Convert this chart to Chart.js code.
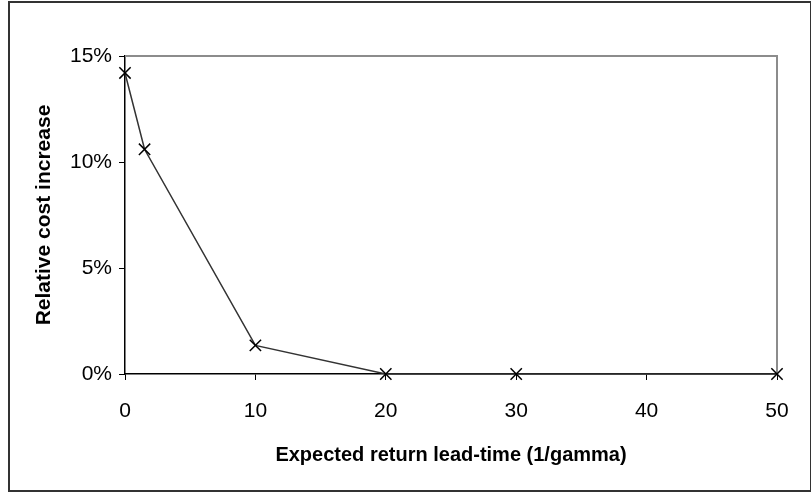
<!DOCTYPE html>
<html>
<head>
<meta charset="utf-8">
<script src="https://cdn.jsdelivr.net/npm/chart.js@4"></script>
<style>
  html, body { margin: 0; padding: 0; background: #fff; }
  #wrap { width: 811px; height: 494px; position: relative; }
</style>
</head>
<body>
<div id="wrap"><canvas id="c" width="811" height="494"></canvas></div>
<script>
// lead-time (1/gamma) e aumento de custo relativo (%)
const leadTimes = [0, 1.5, 10, 20, 30, 50];
const costIncrease = [14.2, 10.6, 1.35, 0, 0, 0];
const xTicks = [0, 10, 20, 30, 40, 50];
const yTicks = [0, 5, 10, 15];

const FONT = "'Liberation Sans', Arial, sans-serif";

// borda cinza do plot (topo/direita) e moldura externa
const frames = {
  id: "frames",
  beforeDatasetsDraw(chart) {
    const { ctx, chartArea: a } = chart;
    ctx.save();
    ctx.strokeStyle = "#8c8c8c";
    ctx.lineWidth = 2;
    ctx.beginPath();
    ctx.moveTo(a.left, a.top);
    ctx.lineTo(a.right, a.top);
    ctx.lineTo(a.right, a.bottom);
    ctx.stroke();
    ctx.restore();
  },
  afterDraw(chart) {
    const ctx = chart.ctx;
    ctx.save();
    ctx.strokeStyle = "#333";
    ctx.lineWidth = 2;
    ctx.strokeRect(9, 2, 802, 489);
    ctx.restore();
  }
};

new Chart(document.getElementById("c"), {
  type: "line",
  data: {
    datasets: [{
      data: leadTimes.map((x, i) => ({ x, y: costIncrease[i] })),
      borderColor: "#333",
      borderWidth: 1.5,
      pointStyle: "crossRot",
      pointRadius: 8,
      pointBorderColor: "#000",
      pointBorderWidth: 1.5,
      tension: 0,
      clip: false,
    }],
  },
  options: {
    responsive: false,
    animation: false,
    layout: { padding: { left: 0, right: 34, top: 56, bottom: 0 } },
    plugins: { legend: { display: false }, tooltip: { enabled: false } },
    scales: {
      x: {
        type: "linear",
        min: 0, max: 50,
        afterFit: (s) => { s.height = 120; },
        afterBuildTicks: (s) => { s.ticks = xTicks.map(v => ({ value: v })); },
        grid: { drawOnChartArea: false, drawTicks: true, tickLength: 6, color: "#000" },
        border: { color: "#000", width: 1.5 },
        ticks: { color: "#000", padding: 19, maxRotation: 0, font: { family: FONT, size: 21 } },
        title: {
          display: true,
          text: "Expected return lead-time (1/gamma)",
          color: "#000",
          font: { family: FONT, size: 20, weight: "bold" },
          padding: { top: 0, bottom: 27 },
        },
      },
      y: {
        min: 0, max: 15,
        afterFit: (s) => { s.width = 125; },
        afterBuildTicks: (s) => { s.ticks = yTicks.map(v => ({ value: v })); },
        grid: { drawOnChartArea: false, drawTicks: true, tickLength: 6, color: "#000" },
        border: { color: "#000", width: 1.5 },
        ticks: { color: "#000", padding: 7, font: { family: FONT, size: 21 }, callback: (v) => v + "%" },
        title: {
          display: true,
          text: "Relative cost increase",
          color: "#000",
          font: { family: FONT, size: 21, weight: "bold" },
          padding: { top: 32, bottom: 0 },
        },
      },
    },
  },
  plugins: [frames],
});
</script>
</body>
</html>
